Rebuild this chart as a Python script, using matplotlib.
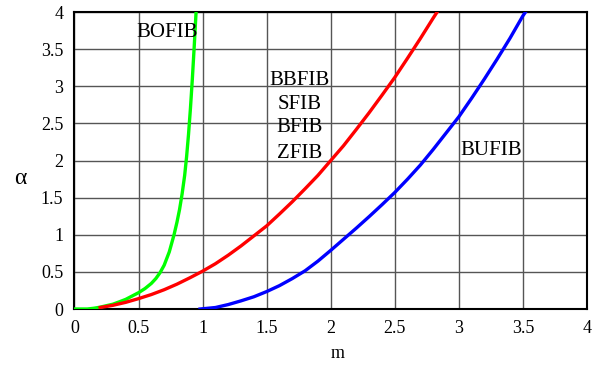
import numpy as np
import matplotlib.pyplot as plt

# ============================================================
# DATA
# ============================================================

m_bofib = [0.0, 0.1, 0.15, 0.2, 0.3, 0.355, 0.4, 0.5, 0.55, 0.6, 0.635, 0.668, 0.7,
           0.74, 0.777, 0.8, 0.82, 0.84, 0.86, 0.875, 0.89, 0.905, 0.92, 0.935, 0.949]
a_bofib = [0.0, 0.0, 0.01, 0.025, 0.065, 0.1, 0.13, 0.22, 0.275, 0.345, 0.41, 0.49, 0.59,
           0.77, 1.0, 1.17, 1.34, 1.55, 1.8, 2.05, 2.35, 2.7, 3.1, 3.55, 4.0]

m_red = [0.2, 0.3, 0.4, 0.5, 0.6, 0.7, 0.8, 0.9, 1.0, 1.1, 1.2, 1.3, 1.4, 1.5,
         1.6, 1.7, 1.8, 1.9, 2.0, 2.1, 2.2, 2.3, 2.4, 2.5, 2.6, 2.7, 2.8, 2.83]
a_red = [0.02, 0.05, 0.09, 0.14, 0.195, 0.26, 0.335, 0.42, 0.51, 0.61, 0.725, 0.85,
         0.985, 1.12, 1.28, 1.445, 1.62, 1.8, 2.0, 2.2, 2.42, 2.645, 2.88, 3.12, 3.38,
         3.645, 3.92, 4.0]

m_bufib = [0.98, 1.1, 1.2, 1.3, 1.4, 1.5, 1.6, 1.7, 1.8, 1.9, 2.0, 2.1, 2.2, 2.3,
           2.4, 2.5, 2.6, 2.7, 2.8, 2.9, 3.0, 3.1, 3.2, 3.3, 3.4, 3.5, 3.52]
a_bufib = [0.0, 0.02, 0.06, 0.11, 0.165, 0.235, 0.315, 0.41, 0.515, 0.645, 0.79, 0.94,
           1.09, 1.245, 1.405, 1.57, 1.75, 1.94, 2.15, 2.37, 2.59, 2.84, 3.1, 3.37,
           3.65, 3.95, 4.0]

ticks = [0, 0.5, 1, 1.5, 2, 2.5, 3, 3.5, 4]
tick_labels = ["0", "0.5", "1", "1.5", "2", "2.5", "3", "3.5", "4"]

# ============================================================
# PLOT
# ============================================================

plt.rcParams['font.family'] = ['Liberation Serif', 'DejaVu Serif']

fig = plt.figure(figsize=(6.13, 3.67), dpi=100)
ax = fig.add_axes([0.1215, 0.158, 0.836, 0.809])

ax.plot(m_bofib, a_bofib, color="#00ff00", lw=2.4, zorder=3)
ax.plot(m_red, a_red, color="#ff0000", lw=2.4, zorder=3)
ax.plot(m_bufib, a_bufib, color="#0000ff", lw=2.4, zorder=3)

ax.set_xlim(0, 4)
ax.set_ylim(0, 4)
ax.set_xticks(ticks)
ax.set_xticklabels(tick_labels)
ax.set_yticks(ticks)
ax.set_yticklabels(tick_labels)
ax.tick_params(length=0, labelsize=13, pad=8)
ax.grid(True, color="#555555", lw=1.0)
ax.set_axisbelow(True)
for s in ax.spines.values():
    s.set_linewidth(1.5)
    s.set_color("black")

ax.text(0.72, 3.73, "BOFIB", fontsize=15, ha="center", va="center")
for lab, y in zip(["BBFIB", "SFIB", "BFIB", "ZFIB"], [3.08, 2.76, 2.44, 2.1]):
    ax.text(1.76, y, lab, fontsize=15, ha="center", va="center")
ax.text(3.25, 2.14, "BUFIB", fontsize=15, ha="center", va="center")

fig.text(20 / 613, 1 - 178 / 367, "α", fontsize=17, ha="center", va="center")
fig.text(338 / 613, 1 - 353 / 367, "m", fontsize=13, ha="center", va="center")

plt.savefig("out.png", dpi=100)
